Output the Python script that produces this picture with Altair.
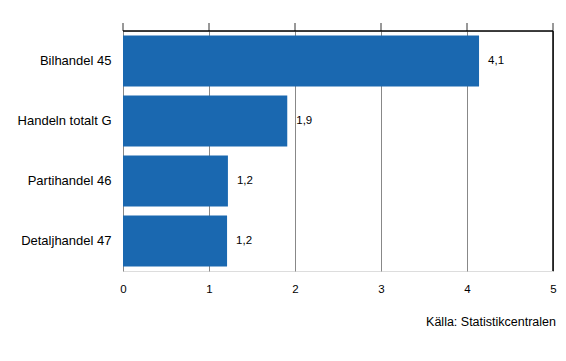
import altair as alt
import pandas as pd

categories = ["Bilhandel 45", "Handeln totalt G", "Partihandel 46", "Detaljhandel 47"]
values = [4.14, 1.91, 1.22, 1.21]
labels = ["4,1", "1,9", "1,2", "1,2"]
x_ticks = [0, 1, 2, 3, 4, 5]
source_text = "Källa: Statistikcentralen"

df = pd.DataFrame({"cat": categories, "val": values, "lab": labels})
ticks_df = pd.DataFrame({"t": x_ticks})

FONT = "Liberation Sans"
W, H = 430, 240

x_scale = alt.Scale(domain=[0, 5], nice=False)
y_axis = alt.Axis(ticks=False, domain=False, labelPadding=12,
                  labelFontSize=13, labelFont=FONT, labelColor="black")
x_axis = alt.Axis(values=x_ticks, format="d", ticks=False, domain=False,
                  grid=True, gridColor="#888888", gridWidth=1,
                  labelPadding=12, labelFontSize=11.5, labelFont=FONT,
                  labelColor="black", labelFlush=False)

y_enc = alt.Y("cat:N", sort=categories, title=None,
              scale=alt.Scale(paddingInner=0.15, paddingOuter=0.075),
              axis=y_axis)

bars = alt.Chart(df).mark_bar(color="#1a68b0").encode(
    x=alt.X("val:Q", scale=x_scale, title=None, axis=x_axis),
    y=y_enc,
)

text = alt.Chart(df).mark_text(align="left", baseline="middle", dx=9,
                               fontSize=11.5, font=FONT, color="black").encode(
    x=alt.X("val:Q", scale=x_scale, title=None, axis=x_axis),
    y=y_enc,
    text="lab:N",
)

top_ticks = alt.Chart(ticks_df).mark_rule(color="#333333", strokeWidth=1).encode(
    x=alt.X("t:Q", scale=x_scale, title=None, axis=x_axis),
    y=alt.value(-8), y2=alt.value(0))

top_line = alt.Chart(pd.DataFrame({"a": [0], "b": [5]})).mark_rule(
    color="black", strokeWidth=1.5).encode(
    x=alt.X("a:Q", scale=x_scale, title=None, axis=x_axis), x2="b:Q",
    y=alt.value(0))

right_border = alt.Chart(pd.DataFrame({"v": [5]})).mark_rule(
    color="black", strokeWidth=1.5).encode(
    x=alt.X("v:Q", scale=x_scale, title=None, axis=x_axis),
    y=alt.value(0), y2=alt.value(H))

source = alt.Chart(pd.DataFrame({"t": [source_text]})).mark_text(
    align="right", baseline="middle", fontSize=12.5, font=FONT, color="black").encode(
    x=alt.value(W + 3), y=alt.value(291), text="t:N")

chart = alt.layer(bars, text, top_ticks, top_line, right_border, source).properties(
    width=W, height=H,
    autosize=alt.AutoSizeParams(type="none"),
    padding={"left": 115, "top": 23, "right": 5, "bottom": 82},
).configure_view(stroke=None).configure(background="white")

chart.save("out.html", embed_options={"renderer": "svg", "actions": False})
